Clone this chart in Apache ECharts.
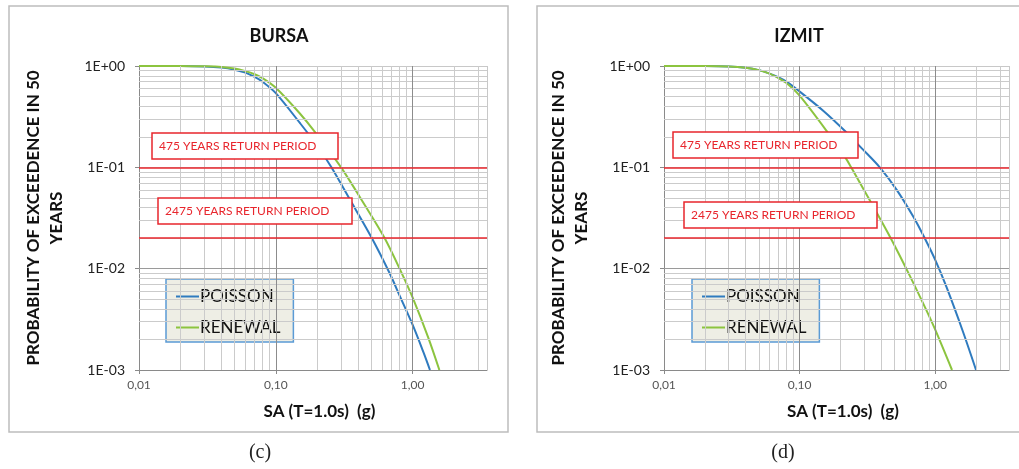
<!DOCTYPE html>
<html>
<head>
<meta charset="utf-8">
<script src="https://cdn.jsdelivr.net/npm/echarts@6/dist/echarts.min.js"></script>
<style>
html,body{margin:0;padding:0;background:#fff;}
#c{width:1019px;height:469px;}
</style>
</head>
<body>
<div id="c"></div>
<script>
// ---- data ----
const panelTitles = ['BURSA', 'IZMIT'];
const panelCaptions = ['(c)', '(d)'];
const seriesNames = ['POISSON', 'RENEWAL'];

const bursaPoissonX = [0.01, 0.02, 0.03, 0.04, 0.05, 0.06, 0.07, 0.08, 0.1, 0.15, 0.2, 0.255, 0.35, 0.5, 0.68, 0.81, 1.0, 1.2, 1.34];
const bursaPoissonY = [1.0, 0.999, 0.99, 0.965, 0.92, 0.86, 0.78, 0.70, 0.54, 0.274, 0.165, 0.1, 0.0475, 0.0204, 0.009, 0.0053, 0.0028, 0.0015, 0.001];
const bursaRenewalX = [0.01, 0.02, 0.03, 0.04, 0.05, 0.06, 0.07, 0.08, 0.1, 0.15, 0.193, 0.3, 0.44, 0.62, 0.81, 1.0, 1.3, 1.57];
const bursaRenewalY = [1.0, 0.999, 0.993, 0.98, 0.945, 0.89, 0.83, 0.76, 0.61, 0.34, 0.224, 0.1, 0.044, 0.0204, 0.0098, 0.0052, 0.0021, 0.001];

const izmitPoissonX = [0.01, 0.02, 0.03, 0.04, 0.05, 0.06, 0.07, 0.08, 0.1, 0.15, 0.22, 0.29, 0.39, 0.52, 0.69, 0.83, 1.0, 1.21, 1.6, 2.0];
const izmitPoissonY = [1.0, 0.999, 0.99, 0.96, 0.91, 0.84, 0.77, 0.70, 0.56, 0.36, 0.223, 0.152, 0.1, 0.06, 0.0325, 0.0204, 0.0122, 0.0066, 0.0024, 0.001];
const izmitRenewalX = [0.01, 0.02, 0.03, 0.04, 0.05, 0.06, 0.07, 0.08, 0.1, 0.16, 0.22, 0.24, 0.33, 0.47, 0.65, 0.86, 1.0, 1.33];
const izmitRenewalY = [1.0, 0.999, 0.99, 0.96, 0.91, 0.84, 0.76, 0.68, 0.51, 0.224, 0.122, 0.1, 0.047, 0.02, 0.0085, 0.0039, 0.0025, 0.001];

const returnPeriodLevels = [0.1, 0.02];
const returnPeriodLabels = ['475 YEARS RETURN PERIOD', '2475 YEARS RETURN PERIOD'];

const xMin = 0.01, xMax = 3.5;
const yMin = 0.001, yMax = 1;
const xMinorGrid = [0.02,0.03,0.04,0.05,0.06,0.07,0.08,0.09,0.2,0.3,0.4,0.5,0.6,0.7,0.8,0.9,2,3];
const xMajorGrid = [0.1, 1];
const yMinorGrid = [0.002,0.003,0.004,0.005,0.006,0.007,0.008,0.009,0.02,0.03,0.04,0.05,0.06,0.07,0.08,0.09,0.2,0.3,0.4,0.5,0.6,0.7,0.8,0.9];
const yMajorGrid = [0.01];

// ---- styling / layout ----
const FONT = 'Lato, "Open Sans", sans-serif';
const BLUE = '#2f7bbf';
const GREEN = '#8cc43f';
const RED = '#e8262d';

const panels = [
  {grid: {left: 139, top: 66, width: 348, height: 304}, title: [279, 36], caption: [260, 453],
   border: [9, 6, 499, 426], legend: [166, 279],
   boxes: [[152, 133, 186, 26], [158, 198, 194, 26]],
   poisson: [bursaPoissonX, bursaPoissonY], renewal: [bursaRenewalX, bursaRenewalY]},
  {grid: {left: 664, top: 66, width: 345, height: 304}, title: [799, 36], caption: [783, 453],
   border: [537, 6, 490, 426], legend: [692, 279],
   boxes: [[673, 132, 185, 26], [684, 202, 193, 26]],
   poisson: [izmitPoissonX, izmitPoissonY], renewal: [izmitRenewalX, izmitRenewalY]}
];

function pairs(xs, ys) { return xs.map((x, i) => [x, ys[i]]); }
function yFmt(v) {
  const e = Math.round(Math.log10(v));
  const a = Math.abs(e);
  return '1E' + (e < 0 ? '-' : '+') + (a < 10 ? '0' : '') + a;
}
function xFmt(v) { return v.toFixed(2).replace('.', ','); }

const grids = [], xAxes = [], yAxes = [], series = [], legends = [], graphics = [];

panels.forEach((p, i) => {
  grids.push(p.grid);
  xAxes.push({
    type: 'log', gridIndex: i, min: xMin, max: xMax,
    name: 'SA (T=1.0s)  (g)', nameLocation: 'middle', nameGap: 33,
    nameTextStyle: {fontFamily: FONT, fontWeight: 'bold', fontSize: 17, color: '#111', padding: [0, 0, 0, 13]},
    axisLine: {show: true, lineStyle: {color: '#8a8a8a', width: 1}},
    axisTick: {show: true, length: 4, lineStyle: {color: '#8a8a8a'}},
    axisLabel: {fontFamily: FONT, fontSize: 12, color: '#555', margin: 9, formatter: xFmt, showMaxLabel: false},
    splitLine: {show: true, lineStyle: {color: '#c8c8c8', width: 1}},
    minorTick: {show: false}, minorSplitLine: {show: false}
  });
  yAxes.push({
    type: 'log', gridIndex: i, min: yMin, max: yMax,
    name: 'PROBABILITY OF EXCEEDENCE IN 50\nYEARS', nameLocation: 'middle', nameRotate: 90, nameGap: 71,
    nameTextStyle: {fontFamily: FONT, fontWeight: 'bold', fontSize: 17, color: '#111', lineHeight: 23},
    axisLine: {show: true, lineStyle: {color: '#8a8a8a', width: 1}},
    axisTick: {show: true, length: 4, lineStyle: {color: '#8a8a8a'}},
    axisLabel: {fontFamily: FONT, fontSize: 14, color: '#222', margin: 14, formatter: yFmt},
    splitLine: {show: true, lineStyle: {color: '#c8c8c8', width: 1}}
  });

  const mlData = [];
  xMinorGrid.forEach(v => mlData.push({xAxis: v}));
  yMinorGrid.forEach(v => mlData.push({yAxis: v}));
  xMajorGrid.forEach(v => mlData.push({xAxis: v, lineStyle: {color: '#8c8c8c', width: 1, type: 'solid'}}));
  yMajorGrid.forEach(v => mlData.push({yAxis: v, lineStyle: {color: '#9a9a9a', width: 1, type: 'solid'}}));
  returnPeriodLevels.forEach(v => mlData.push({yAxis: v, lineStyle: {color: RED, width: 1.5, type: 'solid'}}));

  series.push({
    name: 'grid' + i, type: 'line', xAxisIndex: i, yAxisIndex: i, data: [], z: 1, silent: true,
    markLine: {
      silent: true, symbol: ['none', 'none'], animation: false, precision: 6,
      label: {show: false}, emphasis: {disabled: true},
      lineStyle: {color: '#cbcbcb', width: 1, type: 'solid'},
      data: mlData
    }
  });
  series.push({
    name: seriesNames[0], type: 'line', xAxisIndex: i, yAxisIndex: i, z: 3,
    data: pairs(p.poisson[0], p.poisson[1]), symbol: 'none', smooth: 0.3,
    lineStyle: {color: BLUE, width: 2}, itemStyle: {color: BLUE}
  });
  series.push({
    name: seriesNames[1], type: 'line', xAxisIndex: i, yAxisIndex: i, z: 3,
    data: pairs(p.renewal[0], p.renewal[1]), symbol: 'none', smooth: 0.3,
    lineStyle: {color: GREEN, width: 2}, itemStyle: {color: GREEN}
  });

  legends.push({
    data: seriesNames, orient: 'vertical', left: p.legend[0], top: p.legend[1],
    backgroundColor: '#eeeee5', borderColor: '#5b9bd5', borderWidth: 1.5,
    padding: [9, 13, 6, 10], itemGap: 14, itemWidth: 23, itemHeight: 2,
    icon: 'rect', selectedMode: false,
    textStyle: {fontFamily: FONT, fontSize: 17, color: '#111', padding: [0, 0, 0, -4]}
  });

  // panel frame
  graphics.push({type: 'rect', z: 0, silent: true,
    shape: {x: p.border[0], y: p.border[1], width: p.border[2], height: p.border[3]},
    style: {fill: null, stroke: '#bdbdbd', lineWidth: 1.5}});
  // title
  graphics.push({type: 'text', z: 10, x: p.title[0], y: p.title[1], silent: true,
    style: {text: panelTitles[i], font: 'bold 18px ' + FONT, fill: '#111',
      align: 'center', verticalAlign: 'middle', textAlign: 'center', textVerticalAlign: 'middle'}});
  // caption
  graphics.push({type: 'text', z: 10, x: p.caption[0], y: p.caption[1], silent: true,
    style: {text: panelCaptions[i], font: '20px "Liberation Serif", "DejaVu Serif", serif', fill: '#222',
      align: 'center', verticalAlign: 'middle', textAlign: 'center', textVerticalAlign: 'middle'}});
  // return period annotation boxes
  p.boxes.forEach((b, k) => {
    graphics.push({type: 'rect', z: 50, silent: true,
      shape: {x: b[0], y: b[1], width: b[2], height: b[3]},
      style: {fill: '#fff', stroke: RED, lineWidth: 1.5}});
    graphics.push({type: 'text', z: 51, x: b[0] + 7, y: b[1] + b[3] / 2, silent: true,
      style: {text: returnPeriodLabels[k], font: '12px ' + FONT, fill: RED,
        align: 'left', verticalAlign: 'middle', textAlign: 'left', textVerticalAlign: 'middle'}});
  });
});

const chart = echarts.init(document.getElementById('c'), null, {renderer: 'canvas'});
chart.setOption({
  animation: false,
  backgroundColor: '#fff',
  grid: grids, xAxis: xAxes, yAxis: yAxes, series: series, legend: legends,
  graphic: graphics
});
</script>
</body>
</html>
